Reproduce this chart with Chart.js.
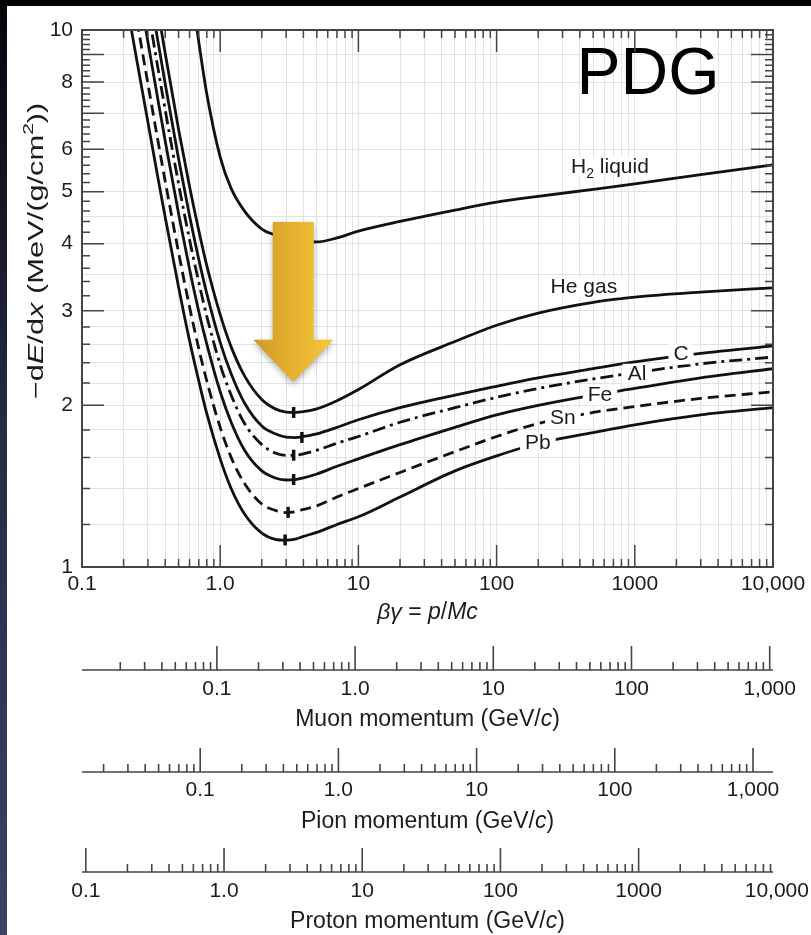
<!DOCTYPE html>
<html>
<head>
<meta charset="utf-8">
<script src="https://cdn.jsdelivr.net/npm/chart.js@4.4.1/dist/chart.umd.min.js"></script>
<style>
  html, body { margin: 0; padding: 0; background: #000; }
  #wrap { position: absolute; left: 0; top: 0; width: 811px; height: 935px; background: #000; overflow: hidden; }
  #side { position: absolute; left: 0; top: 6px; width: 7px; bottom: 0; background: linear-gradient(#05060a, #262a44 45%, #3d4266); }
  #paper { position: absolute; left: 7px; top: 6px; right: 0; bottom: 0; background: #fff; }
  #chart { position: absolute; left: 0; top: 0; }
</style>
</head>
<body>
<div id="wrap">
  <div id="side"></div>
  <div id="paper"></div>
  <canvas id="chart" width="811" height="935"></canvas>
</div>
<script>
// beta*gamma sample points shared by all curves
const betaGamma = [0.2, 0.25, 0.3, 0.35, 0.4, 0.5, 0.6, 0.7, 0.8, 1, 1.2, 1.5, 2, 2.5, 3, 3.5, 4, 5, 7, 10, 20, 50, 100, 200, 500, 1000, 3000, 10000];

// -dE/dx in MeV/(g/cm2)
const h2Liquid = [null, null, null, null, null, null, 12.5, 9.5, 7.6, 5.8, 5.07, 4.6, 4.26, 4.15, 4.09, 4.05, 4.03, 4.03, 4.1, 4.22, 4.4, 4.62, 4.78, 4.9, 5.05, 5.17, 5.38, 5.61];
const heGas    = [null, null, null, 11.1, 9.05, 6.53, 5.11, 4.23, 3.64, 2.95, 2.57, 2.27, 2.05, 1.97, 1.943, 1.94, 1.946, 1.97, 2.04, 2.14, 2.38, 2.63, 2.82, 2.97, 3.11, 3.18, 3.25, 3.31];
const carbon   = [null, null, 12.3, 9.71, 7.94, 5.75, 4.51, 3.74, 3.23, 2.62, 2.29, 2.02, 1.83, 1.77, 1.745, 1.742, 1.75, 1.77, 1.82, 1.88, 1.98, 2.09, 2.17, 2.25, 2.34, 2.41, 2.5, 2.58];
const aluminium = [null, null, 10.95, 8.65, 7.1, 5.17, 4.07, 3.39, 2.93, 2.38, 2.09, 1.85, 1.69, 1.63, 1.614, 1.615, 1.625, 1.65, 1.7, 1.75, 1.86, 1.98, 2.07, 2.15, 2.24, 2.3, 2.39, 2.46];
const iron     = [null, 12.5, 9.5, 7.55, 6.21, 4.55, 3.59, 2.99, 2.6, 2.12, 1.86, 1.65, 1.51, 1.465, 1.452, 1.455, 1.465, 1.49, 1.54, 1.59, 1.69, 1.82, 1.92, 2.0, 2.09, 2.15, 2.25, 2.34];
const tin      = [null, 10.4, 7.94, 6.33, 5.23, 3.85, 3.05, 2.55, 2.22, 1.82, 1.6, 1.43, 1.31, 1.275, 1.263, 1.268, 1.28, 1.3, 1.35, 1.4, 1.5, 1.64, 1.75, 1.85, 1.94, 1.99, 2.06, 2.12];
const lead     = [12.06, 8.75, 6.73, 5.4, 4.48, 3.32, 2.64, 2.22, 1.93, 1.59, 1.4, 1.255, 1.156, 1.126, 1.122, 1.127, 1.14, 1.16, 1.2, 1.24, 1.35, 1.51, 1.61, 1.7, 1.78, 1.84, 1.92, 1.98];

// minimum ionization markers (He, C, Al, Fe, Sn, Pb)
const minBetaGamma = [3.4, 3.9, 3.4, 3.4, 3.1, 2.95];
const minValues    = [1.94, 1.743, 1.615, 1.455, 1.264, 1.123];

// axes
const xLabelValues = [0.1, 1, 10, 100, 1000, 10000];
const xLabels      = ['0.1', '1.0', '10', '100', '1000', '10,000'];
const yGridValues  = [1, 1.2, 1.4, 1.6, 1.8, 2, 2.2, 2.4, 2.6, 2.8, 3, 3.5, 4, 4.5, 5, 6, 7, 8, 9, 10];
const yLabelValues = [1, 2, 3, 4, 5, 6, 8, 10];
const yMajorTicks  = [2, 3, 4, 5, 6, 7, 8, 9];
const yMinorTicks  = [1.2, 1.4, 1.6, 1.8, 2.2, 2.4, 2.6, 2.8, 3.2, 3.4, 3.6, 3.8, 4.2, 4.4, 4.6, 4.8, 5.2, 5.4, 5.6, 5.8,
                      6.2, 6.4, 6.6, 6.8, 7.2, 7.4, 7.6, 7.8, 8.2, 8.4, 8.6, 8.8, 9.2, 9.4, 9.6, 9.8];

// momentum axes: particle mass in GeV/c2
const muonMass = 0.10566, pionMass = 0.13957, protonMass = 0.93827;
const momLabelValues = [0.1, 1, 10, 100, 1000];
const muonLabels   = ['0.1', '1.0', '10', '100', '1,000'];
const pionLabels   = ['0.1', '1.0', '10', '100', '1,000'];
const protonLabelValues = [0.1, 1, 10, 100, 1000, 10000];
const protonLabels = ['0.1', '1.0', '10', '100', '1000', '10,000'];

const FONT = '"Liberation Sans", Arial, Helvetica, sans-serif';
const INK = '#1c1c1c';
const AXIS = '#444';
const GRID = '#e2e2e2';

function logTicks(min, max) {
  const out = [];
  for (let e = -2; e <= 4; e++) {
    for (let s = 1; s <= 9; s++) {
      const v = +(s * Math.pow(10, e)).toPrecision(3);
      if (v >= min * 0.999 && v <= max * 1.001) out.push(v);
    }
  }
  return out;
}
function isDecade(v) { const l = Math.log10(v); return Math.abs(l - Math.round(l)) < 1e-6; }
function labelFor(values, labels) {
  return v => { const i = values.findIndex(t => Math.abs(t / v - 1) < 1e-6); return i >= 0 ? labels[i] : ''; };
}

const xTickValues = logTicks(0.1, 10000);
const muonTicks = logTicks(0.1 * muonMass, 10000 * muonMass);
const pionTicks = logTicks(0.1 * pionMass, 10000 * pionMass);
const protonTicks = logTicks(0.1 * protonMass, 10000 * protonMass);

function pts(values) {
  return betaGamma.map((b, i) => ({x: b, y: values[i]})).filter(p => p.y !== null);
}

const curves = [
  {label: 'H2 liquid', data: h2Liquid, dash: []},
  {label: 'He gas', data: heGas, dash: []},
  {label: 'C', data: carbon, dash: []},
  {label: 'Al', data: aluminium, dash: [13, 5, 3, 5]},
  {label: 'Fe', data: iron, dash: []},
  {label: 'Sn', data: tin, dash: [11, 6]},
  {label: 'Pb', data: lead, dash: []}
];

// text annotations, placed in data coordinates
const curveLabels = [
  {parts: [{t: 'H'}, {t: '2', sub: 1}, {t: ' liquid'}], x: 661, y: 5.55},
  {parts: [{t: 'He gas'}], x: 428, y: 3.32},
  {parts: [{t: 'C'}], x: 2160, y: 2.49},
  {parts: [{t: 'Al'}], x: 1037, y: 2.29},
  {parts: [{t: 'Fe'}], x: 560, y: 2.09},
  {parts: [{t: 'Sn'}], x: 302, y: 1.89},
  {parts: [{t: 'Pb'}], x: 199, y: 1.7}
];

function fontFor(p, size) {
  const s = (p.sub || p.sup) ? Math.round(size * 0.68) : size;
  return (p.it ? 'italic ' : '') + s + 'px ' + FONT;
}
function richWidth(ctx, parts, size) {
  let w = 0;
  parts.forEach(p => { ctx.font = fontFor(p, size); w += ctx.measureText(p.t).width; });
  return w;
}
function drawRich(ctx, parts, cx, cy, size) {
  const w = richWidth(ctx, parts, size);
  let x = cx - w / 2;
  ctx.textAlign = 'left';
  ctx.textBaseline = 'middle';
  parts.forEach(p => {
    ctx.font = fontFor(p, size);
    const dy = p.sub ? size * 0.32 : (p.sup ? -size * 0.36 : 0);
    ctx.fillText(p.t, x, cy + dy);
    x += ctx.measureText(p.t).width;
  });
  return w;
}

const annotations = {
  id: 'annotations',
  afterDatasetsDraw(chart) {
    const {ctx, scales: {x, y}} = chart;
    ctx.save();
    // golden arrow pointing at the minimum
    const ax = x.getPixelForValue(3.38);
    const top = y.getPixelForValue(4.39);
    const neck = y.getPixelForValue(2.65);
    const tip = y.getPixelForValue(2.21);
    const g = ctx.createLinearGradient(ax - 40, 0, ax + 40, 0);
    g.addColorStop(0, '#cf9a26');
    g.addColorStop(0.5, '#e6b12f');
    g.addColorStop(1, '#f7c73a');
    ctx.shadowColor = 'rgba(0,0,0,0.3)';
    ctx.shadowBlur = 6;
    ctx.shadowOffsetY = 3;
    ctx.fillStyle = g;
    ctx.beginPath();
    ctx.moveTo(ax - 20.5, top);
    ctx.lineTo(ax + 20.5, top);
    ctx.lineTo(ax + 20.5, neck);
    ctx.lineTo(ax + 40, neck);
    ctx.lineTo(ax, tip);
    ctx.lineTo(ax - 40, neck);
    ctx.lineTo(ax - 20.5, neck);
    ctx.closePath();
    ctx.fill();
    ctx.shadowColor = 'transparent';

    // curve labels on white patches
    curveLabels.forEach(l => {
      const px = x.getPixelForValue(l.x), py = y.getPixelForValue(l.y);
      const w = richWidth(ctx, l.parts, 21);
      ctx.fillStyle = '#fff';
      ctx.fillRect(px - w / 2 - 5, py - 10, w + 10, 20);
      ctx.fillStyle = INK;
      drawRich(ctx, l.parts, px, py, 21);
    });

    // PDG tag
    ctx.font = '66px ' + FONT;
    ctx.textAlign = 'center';
    ctx.textBaseline = 'middle';
    ctx.fillStyle = '#000';
    ctx.fillText('PDG', x.getPixelForValue(1247), y.getPixelForValue(8.22));
    ctx.restore();
  },
  afterDraw(chart) {
    const {ctx, chartArea: a, scales} = chart;
    const {x, y} = scales;
    ctx.save();
    ctx.strokeStyle = AXIS;
    ctx.lineWidth = 1.5;
    ctx.beginPath();
    // ticks pointing into the plot on all four sides
    xTickValues.forEach(v => {
      const px = x.getPixelForValue(v);
      const len = isDecade(v) ? 22 : 8;
      ctx.moveTo(px, a.bottom); ctx.lineTo(px, a.bottom - len);
      ctx.moveTo(px, a.top); ctx.lineTo(px, a.top + len);
    });
    yMajorTicks.concat(yMinorTicks).forEach(v => {
      const py = y.getPixelForValue(v);
      const len = yMajorTicks.includes(v) ? 22 : 8;
      ctx.moveTo(a.left, py); ctx.lineTo(a.left + len, py);
      ctx.moveTo(a.right, py); ctx.lineTo(a.right - len, py);
    });
    ctx.stroke();
    ctx.lineWidth = 2;
    ctx.strokeRect(a.left, a.top, a.right - a.left, a.bottom - a.top);

    // momentum scales: base line with upward ticks
    [['muon', muonTicks, 43], ['pion', pionTicks, 40], ['proton', protonTicks, 38]].forEach(([id, ticks, off]) => {
      const s = scales[id];
      const base = s.top + off;
      ctx.lineWidth = 1.6;
      ctx.beginPath();
      ctx.moveTo(a.left, base); ctx.lineTo(a.right, base);
      ticks.forEach(v => {
        const px = s.getPixelForValue(v);
        if (px < a.left - 1 || px > a.right + 1) return;
        ctx.moveTo(px, base); ctx.lineTo(px, base - (isDecade(v) ? 24 : 8));
      });
      ctx.stroke();
    });

    // axis titles
    ctx.fillStyle = INK;
    const cx = (a.left + a.right) / 2;
    drawRich(ctx, [{t: 'βγ', it: 1}, {t: ' = '}, {t: 'p', it: 1}, {t: '/'}, {t: 'Mc', it: 1}], cx, x.bottom - 14, 23);
    drawRich(ctx, [{t: 'Muon momentum (GeV/'}, {t: 'c', it: 1}, {t: ')'}], cx, scales.muon.bottom - 12, 23);
    drawRich(ctx, [{t: 'Pion momentum (GeV/'}, {t: 'c', it: 1}, {t: ')'}], cx, scales.pion.bottom - 12, 23);
    drawRich(ctx, [{t: 'Proton momentum (GeV/'}, {t: 'c', it: 1}, {t: ')'}], cx, scales.proton.bottom - 12, 23);

    ctx.save();
    ctx.translate(y.left + 29, 251);
    ctx.rotate(-Math.PI / 2);
    ctx.scale(1.4, 1);
    drawRich(ctx, [{t: '−d'}, {t: 'E', it: 1}, {t: '/d'}, {t: 'x', it: 1}, {t: ' (MeV/(g/cm'}, {t: '2', sup: 1}, {t: '))'}], 0, 0, 22);
    ctx.restore();
    ctx.restore();
  }
};

const tickFont = {family: FONT, size: 21};

// keep horizontal scales from reserving room for overhanging end labels
function noSidePadding(s) { s.paddingLeft = 0; s.paddingRight = 0; }

function momentumScale(mass, ticks, labelValues, labels, weight, height, padding) {
  return {
    type: 'logarithmic', position: 'bottom', weight: weight,
    min: 0.1 * mass, max: 10000 * mass,
    afterBuildTicks: s => { s.ticks = ticks.concat(labelValues.filter(v => v > 10000 * mass)).map(v => ({value: v})); },
    afterFit: s => { s.height = height; noSidePadding(s); },
    grid: {display: false, drawOnChartArea: false, drawTicks: false},
    border: {display: false},
    ticks: {autoSkip: false, maxRotation: 0, minRotation: 0, padding: padding, font: tickFont, color: INK,
            callback: labelFor(labelValues, labels)}
  };
}

new Chart(document.getElementById('chart'), {
  type: 'line',
  data: {
    datasets: curves.map(c => ({
      label: c.label,
      data: pts(c.data),
      borderColor: '#111',
      borderWidth: 2.8,
      borderDash: c.dash,
      pointRadius: 0,
      cubicInterpolationMode: 'monotone',
      fill: false
    })).concat([{
      label: 'minimum',
      data: minBetaGamma.map((b, i) => ({x: b, y: minValues[i]})),
      showLine: false,
      pointStyle: 'line',
      rotation: 90,
      pointRadius: 5.5,
      pointBorderWidth: 3.5,
      pointBorderColor: '#111',
      borderColor: '#111'
    }])
  },
  options: {
    responsive: false,
    devicePixelRatio: 1,
    animation: false,
    events: [],
    layout: {padding: {left: 8, right: 38, top: 30, bottom: 1}},
    plugins: {legend: {display: false}, tooltip: {enabled: false}},
    scales: {
      x: {
        type: 'logarithmic', position: 'bottom', weight: 0, min: 0.1, max: 10000,
        afterBuildTicks: s => { s.ticks = xTickValues.map(v => ({value: v})); },
        afterFit: s => { s.height = 60; noSidePadding(s); },
        grid: {color: GRID, lineWidth: 1, drawTicks: false},
        border: {display: false},
        ticks: {autoSkip: false, maxRotation: 0, minRotation: 0, padding: 5, font: tickFont, color: INK,
                callback: labelFor(xLabelValues, xLabels)}
      },
      y: {
        type: 'logarithmic', position: 'left', min: 1, max: 10,
        afterBuildTicks: s => { s.ticks = yGridValues.map(v => ({value: v})); },
        afterFit: s => { s.width = 74; },
        grid: {color: GRID, lineWidth: 1, drawTicks: false},
        border: {display: false},
        ticks: {autoSkip: false, padding: 9, font: tickFont, color: INK,
                callback: labelFor(yLabelValues, yLabelValues.map(String))}
      },
      muon: momentumScale(muonMass, muonTicks, momLabelValues, muonLabels, 1, 105, 50),
      pion: momentumScale(pionMass, pionTicks, momLabelValues, pionLabels, 2, 102, 46),
      proton: momentumScale(protonMass, protonTicks, protonLabelValues, protonLabels, 3, 100, 45)
    }
  },
  plugins: [annotations]
});
</script>
</body>
</html>
